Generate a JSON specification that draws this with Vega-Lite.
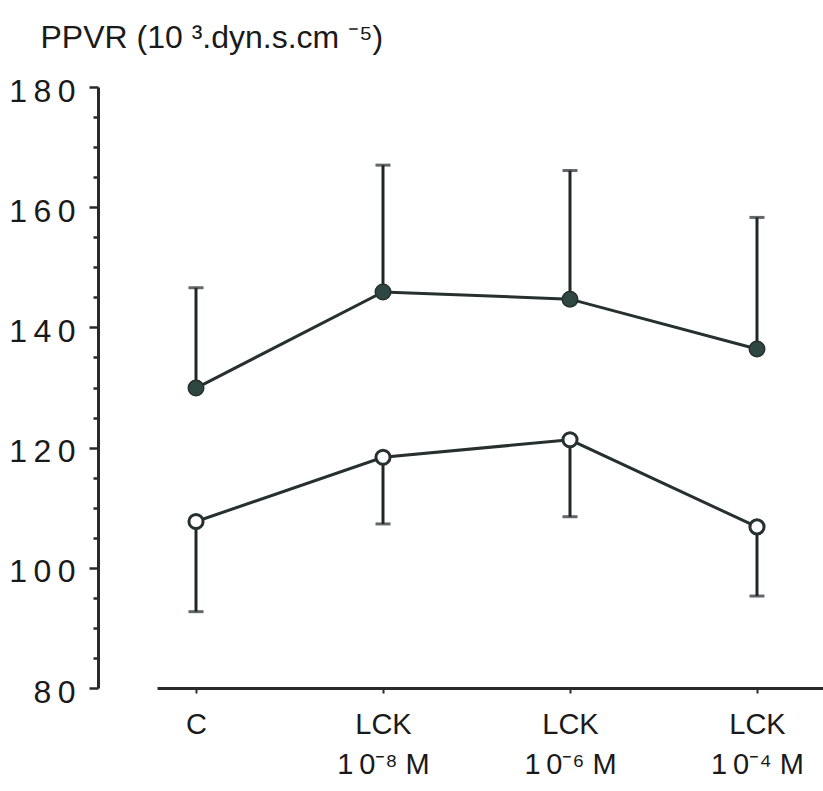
{
  "$schema": "https://vega.github.io/schema/vega-lite/v6.json",
  "width": 666,
  "height": 601,
  "autosize": {"type": "none"},
  "padding": {"left": 157, "top": 87, "right": 0, "bottom": 103},
  "background": "white",
  "config": {
    "view": {"stroke": null},
    "font": "Liberation Sans",
    "axis": {"grid": false}
  },
  "data": {
    "values": [
      {"i": 0, "cond": "C", "group": "filled", "mean": 129.9, "err": 146.6},
      {"i": 1, "cond": "LCK 1e-8", "group": "filled", "mean": 145.9, "err": 167.0},
      {"i": 2, "cond": "LCK 1e-6", "group": "filled", "mean": 144.7, "err": 166.1},
      {"i": 3, "cond": "LCK 1e-4", "group": "filled", "mean": 136.4, "err": 158.3},
      {"i": 0, "cond": "C", "group": "open", "mean": 107.7, "err": 92.7},
      {"i": 1, "cond": "LCK 1e-8", "group": "open", "mean": 118.4, "err": 107.3},
      {"i": 2, "cond": "LCK 1e-6", "group": "open", "mean": 121.3, "err": 108.5},
      {"i": 3, "cond": "LCK 1e-4", "group": "open", "mean": 106.8, "err": 95.3}
    ]
  },
  "encoding": {
    "x": {
      "field": "i",
      "type": "quantitative",
      "scale": {"domain": [-0.2086, 3.353], "nice": false, "zero": false},
      "axis": {
        "title": null,
        "values": [0, 1, 2, 3],
        "domainColor": "#2a2a2a",
        "domainWidth": 3,
        "tickColor": "#2a2a2a",
        "tickWidth": 2,
        "tickSize": 5,
        "labelFontSize": 29,
        "labelColor": "#1a1a1a",
        "labelPadding": 17,
        "labelLineHeight": 40,
        "labelBaseline": "top",
        "labelExpr": "datum.value == 0 ? 'C' : datum.value == 1 ? ['LCK', '1\u20090⁻⁸ M'] : datum.value == 2 ? ['LCK', '1\u20090⁻⁶ M'] : ['LCK', '1\u20090⁻⁴ M']"
      }
    },
    "y": {
      "field": "mean",
      "type": "quantitative",
      "scale": {"domain": [80, 180], "nice": false, "zero": false},
      "axis": {
        "offset": 59,
        "values": [80, 85, 90, 95, 100, 105, 110, 115, 120, 125, 130, 135, 140, 145, 150, 155, 160, 165, 170, 175, 180],
        "domainColor": "#2a2a2a",
        "domainWidth": 3,
        "tickColor": "#2a2a2a",
        "tickWidth": 2.5,
        "tickSize": {"condition": {"test": "datum.value % 20 === 0", "value": 9}, "value": 5},
        "labelFontSize": 32,
        "labelColor": "#1a1a1a",
        "labelPadding": 14,
        "labelOffset": 4,
        "labelExpr": "datum.value % 20 === 0 ? join(split(datum.label, ''), '\u2009') : ''",
        "title": "PPVR (10 ³.dyn.s.cm ⁻⁵)",
        "titleAngle": 0,
        "titleAlign": "left",
        "titleBaseline": "alphabetic",
        "titleFontSize": 32,
        "titleFontWeight": "normal",
        "titleColor": "#1a1a1a",
        "titleX": -58,
        "titleY": -40
      }
    }
  },
  "layer": [
    {
      "mark": {"type": "rule", "color": "#1f2826", "strokeWidth": 3},
      "encoding": {"y2": {"field": "err"}}
    },
    {
      "mark": {"type": "tick", "orient": "horizontal", "color": "#1f2826", "size": 15, "thickness": 3},
      "encoding": {"y": {"field": "err", "type": "quantitative"}}
    },
    {
      "mark": {"type": "line", "color": "#26302e", "strokeWidth": 3},
      "encoding": {"detail": {"field": "group"}}
    },
    {
      "transform": [{"filter": "datum.group == 'filled'"}],
      "mark": {"type": "point", "shape": "circle", "filled": true, "size": 240, "fill": "#2f4743", "stroke": "#26302e", "strokeWidth": 1.5, "opacity": 1}
    },
    {
      "transform": [{"filter": "datum.group == 'open'"}],
      "mark": {"type": "point", "shape": "circle", "filled": true, "size": 200, "fill": "white", "stroke": "#26302e", "strokeWidth": 3, "opacity": 1}
    }
  ]
}
